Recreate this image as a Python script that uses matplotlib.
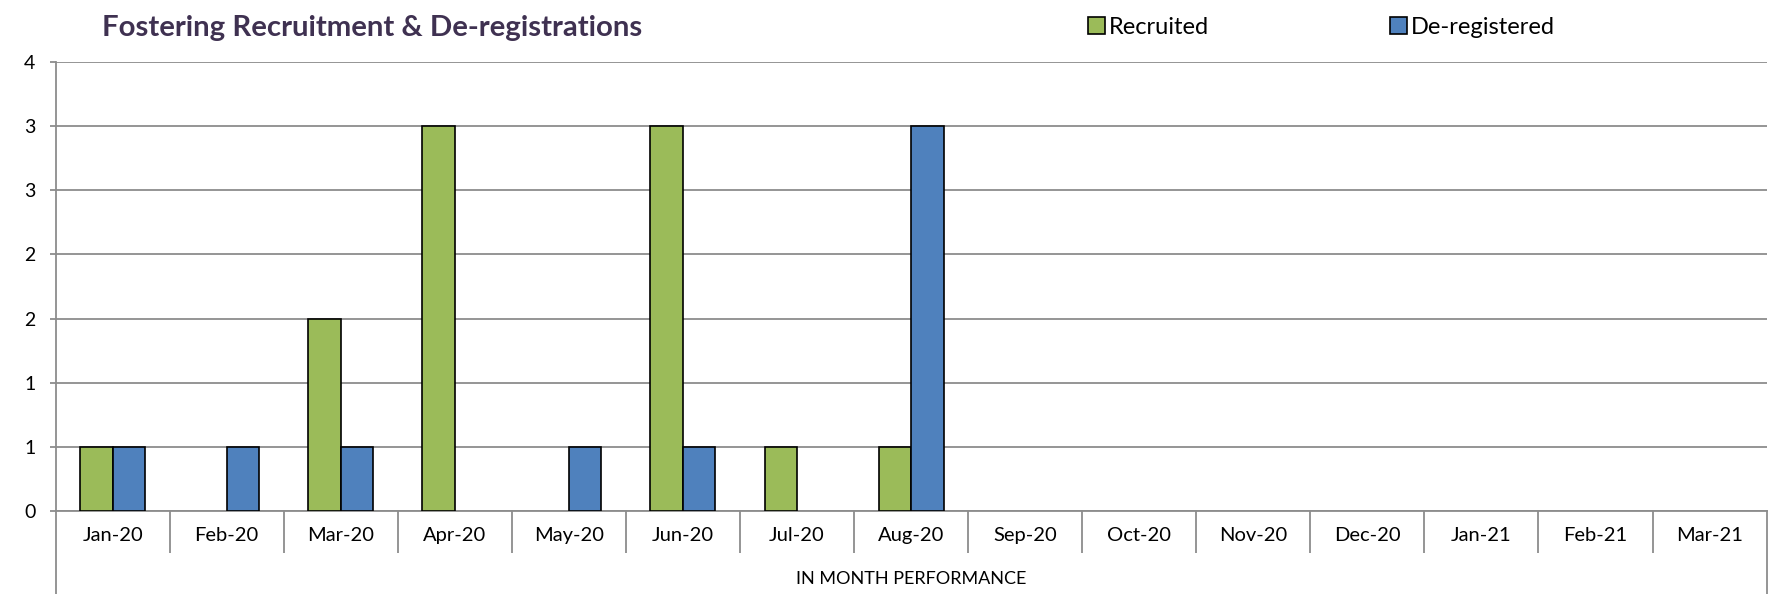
import numpy as np
import matplotlib.pyplot as plt
from matplotlib.ticker import FuncFormatter, MultipleLocator

months = ['Jan-20', 'Feb-20', 'Mar-20', 'Apr-20', 'May-20', 'Jun-20', 'Jul-20', 'Aug-20',
          'Sep-20', 'Oct-20', 'Nov-20', 'Dec-20', 'Jan-21', 'Feb-21', 'Mar-21']
recruited = [0.5, np.nan, 1.5, 3.0, np.nan, 3.0, 0.5, 0.5,
             np.nan, np.nan, np.nan, np.nan, np.nan, np.nan, np.nan]
deregistered = [0.5, 0.5, 0.5, np.nan, 0.5, 0.5, np.nan, 3.0,
                np.nan, np.nan, np.nan, np.nan, np.nan, np.nan, np.nan]

green = '#9BBB59'
blue = '#4F81BD'
grid_col = '#8C8C8C'

plt.rcParams['font.family'] = ['Lato', 'DejaVu Sans']

fig = plt.figure(figsize=(17.79, 5.94), dpi=100)
ax = fig.add_axes([0.03125, 0.1404, 0.9618, 0.7546])

x = np.arange(len(months))
bw = 0.285
ax.bar(x - bw / 2, recruited, bw, color=green, edgecolor='black', linewidth=1.2,
       label='Recruited', zorder=3)
ax.bar(x + bw / 2, deregistered, bw, color=blue, edgecolor='black', linewidth=1.2,
       label='De-registered', zorder=3)

ax.set_xlim(-0.5, len(months) - 0.5)
ax.set_ylim(0, 3.5)
ax.yaxis.set_major_locator(MultipleLocator(0.5))
ax.yaxis.set_major_formatter(FuncFormatter(lambda v, p: str(int(np.floor(v + 0.5)))))
ax.grid(axis='y', color=grid_col, linewidth=1.3, zorder=0)
ax.set_axisbelow(True)

for s in ['top', 'right']:
    ax.spines[s].set_visible(False)
for s in ['left', 'bottom']:
    ax.spines[s].set_color(grid_col)
    ax.spines[s].set_linewidth(1.3)

ax.tick_params(axis='y', direction='out', length=4.5, width=1.3, color=grid_col,
               labelsize=14, pad=10)

# category separators as major ticks, labels on minor ticks
ax.set_xticks(np.arange(0.5, len(months) - 1, 1.0))
ax.set_xticklabels([])
ax.tick_params(axis='x', which='major', direction='out', length=30, width=1.3, color=grid_col)
ax.set_xticks(x, minor=True)
ax.set_xticklabels(months, minor=True)
ax.tick_params(axis='x', which='minor', length=0, labelsize=14.5, pad=12)

# outer lines of the category area
ax.plot([0, 0], [0, -0.1404 / 0.7546], transform=ax.transAxes, color=grid_col,
        linewidth=1.3, clip_on=False)
ax.plot([1, 1], [0, -0.1404 / 0.7546], transform=ax.transAxes, color=grid_col,
        linewidth=1.3, clip_on=False)

fig.text(0.5121, 1 - 579 / 594, 'IN MONTH PERFORMANCE', ha='center', va='center', fontsize=13)

fig.text(0.0573, 1 - 28 / 594, 'Fostering Recruitment & De-registrations', ha='left',
         va='center', fontsize=21.2, fontweight='bold', color='#3F3151')

fig.legend(loc='center left', bbox_to_anchor=(1088 / 1779, 1 - 27 / 594), ncol=2,
           frameon=False, fontsize=17, handlelength=0.7, handleheight=0.7,
           handletextpad=0.2, columnspacing=7.65, borderpad=0, borderaxespad=0)

fig.savefig('out.png', dpi=100)
